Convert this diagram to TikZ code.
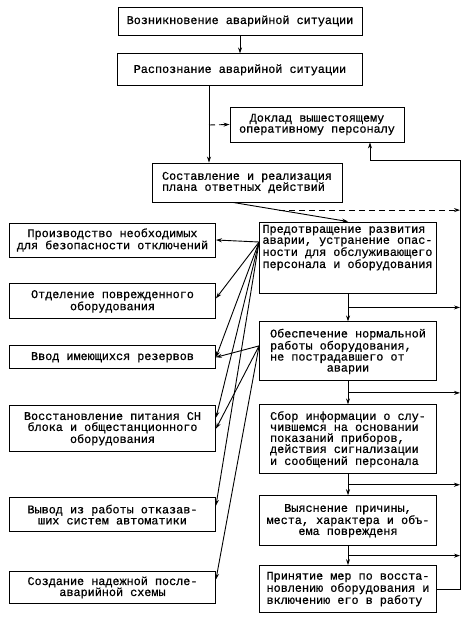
\documentclass[tikz,border=0pt]{standalone}
\usepackage{fontspec}
\newfontfamily\schemefont{Liberation Mono}[FakeBold=0.7]
\usetikzlibrary{positioning,calc,arrows.meta}

\begin{document}
\begin{tikzpicture}[x=1pt,y=-1pt,-,>={Stealth[length=6pt,width=4pt]},line width=0.9pt,node distance=20pt,
                    main node/.style={draw,rectangle,inner sep=3pt,align=center,font=\schemefont\fontsize{11.8}{11}\selectfont},
                    left node/.style={main node,minimum width=206pt},
                    right node/.style={main node,minimum width=177pt},
                    dash line/.style={dash pattern=on 6pt off 4pt}]
                        \useasboundingbox (0,0) rectangle (473,617);

                        % main column
                        \node[main node,minimum width=244pt,minimum height=28pt] (1) at (240,21) {Возникновение аварийной ситуации};
                        \node[main node,minimum width=245pt,minimum height=32pt] (2) [below=18pt of 1] {Распознание аварийной ситуации};
                        \node[main node,minimum width=174pt,minimum height=35pt] (3) at (317,124.5) {Доклад вышестоящему\\оперативному персоналу};
                        \node[main node,align=left,minimum width=190pt,minimum height=39pt] (4) at (247,182.5) {Составление и реализация\\плана ответных действий};

                        \node[main node,align=left] (5) at (348,257.5) {\parbox[t][65pt][t]{171pt}{\raggedright Предотвращение развития\\аварии, устранение опас-\\ности для обслуживающего\\персонала и оборудования}};
                        \node[right node,align=left,minimum height=59pt] (6) [below=28pt of 5] {Обеспечение нормальной\\работы оборудования,\\не пострадавшего от\\\hspace*{4.8em}аварии};
                        \node[right node,align=left,minimum height=69pt] (7) [below=23pt of 6] {Сбор информации о слу-\\чившемся на основании\\показаний приборов,\\действия сигнализации\\и сообщений персонала};
                        \node[right node,minimum height=50pt] (8) [below=21pt of 7] {Выяснение причины,\\места, характера и объ-\\ема поврежденя};
                        \node[right node,align=left,minimum height=47pt] (9) [below=19pt of 8] {Принятие мер по восста-\\новлению оборудования и\\включению его в работу};

                        % left column
                        \node[left node,minimum height=34pt] (10) at (112.5,240) {Производство необходимых\\для безопасности отключений};
                        \node[left node,minimum height=35pt] (11) [below=26pt of 10] {Отделение поврежденного\\оборудования};
                        \node[left node,minimum height=23pt] (12) [below=26pt of 11] {Ввод имеющихся резервов};
                        \node[left node,minimum height=46pt] (13) [below=36pt of 12] {Восстановление питания СН\\блока и общестанционного\\оборудования};
                        \node[left node,minimum height=34pt] (14) [below=45pt of 13] {Вывод из работы отказав-\\ших систем автоматики};
                        \node[left node,minimum height=32pt] (15) [below=39pt of 14] {Создание надежной после-\\аварийной схемы};

                        \coordinate (t) at (209,125);
                        \coordinate (bus) at (460,160);
                        \coordinate (f5) at ([yshift=15.5pt]5.west);
                        \coordinate (f6) at ([yshift=5.5pt]6.west);
                        \coordinate (d) at ($([xshift=-14pt]4.south)!0.4!(5.north)$);

                        \path[->]
                                (1) edge (2)
                                (2.south -| t) edge (4.north -| t)
                                (t) edge [dash line] (3.west)
                                ([xshift=-14pt]4.south) edge (5.north)
                                (d) edge [dash line] (d -| bus)

                                (f5) edge (10.east)
                                (f5) edge ([yshift=3pt]11.east)
                                (f5) edge (12.east)
                                (f5) edge ([yshift=11pt]13.east)
                                (f5) edge ([yshift=9pt]14.east)
                                (f6) edge (12.east)
                                (f6) edge (13.east)
                                (f6) edge ([yshift=8pt]15.east)
                            ;

                        \foreach \a/\b in {5/6,6/7,7/8,8/9}{
                            \path[->] (\a) edge (\b);
                            \coordinate (m\a) at ($(\a.south)!.5!(\b.north)$);
                            \draw[->] (m\a) -- (m\a -| bus);
                        }

                        \draw[->] (9.east) -- (9.east -| bus) -- (bus) -| ([xshift=53pt]3.south);
                    \end{tikzpicture}
\end{document}
